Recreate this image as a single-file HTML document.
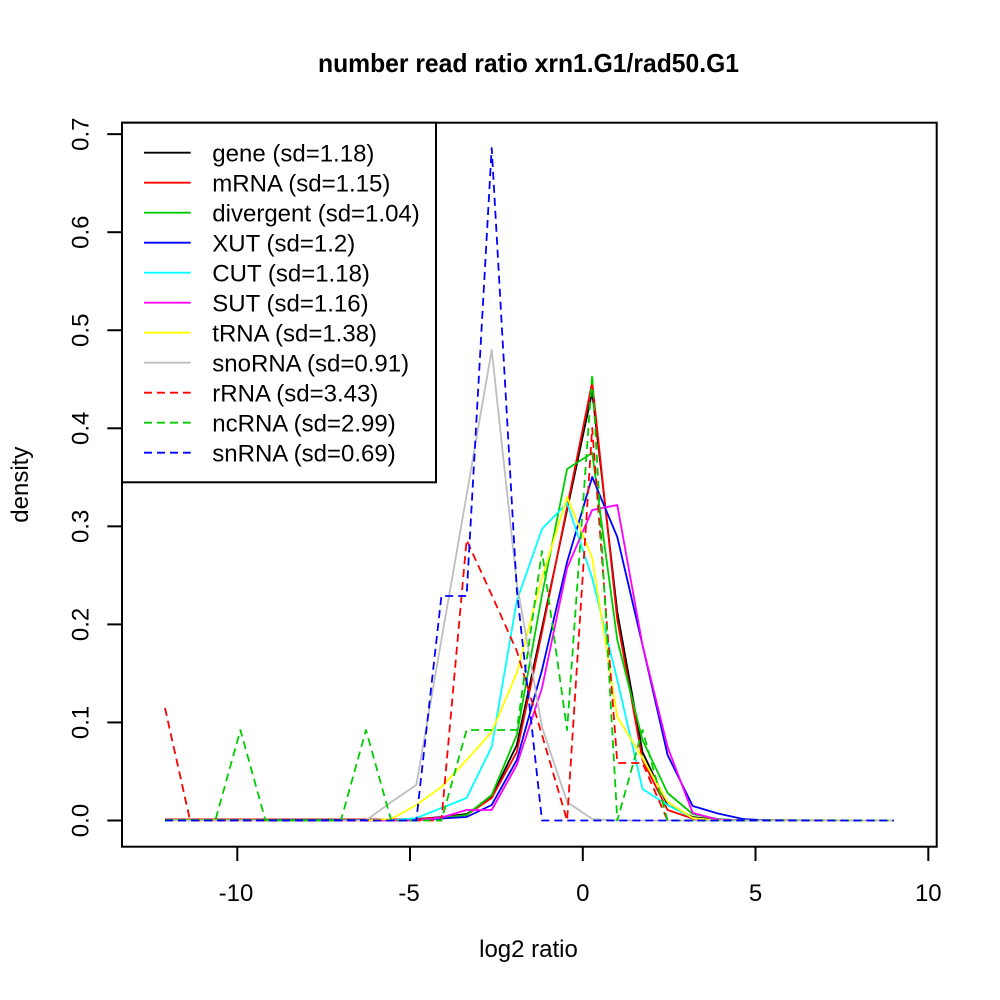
<!DOCTYPE html>
<html>
<head>
<meta charset="utf-8">
<style>
  html, body { margin: 0; padding: 0; background: #ffffff; }
  svg { display: block; }
  text { font-family: "Liberation Sans", Arial, sans-serif; fill: #000; }
</style>
</head>
<body>
<svg width="1000" height="1000" viewBox="0 0 1000 1000" xmlns="http://www.w3.org/2000/svg">
  <rect x="0" y="0" width="1000" height="1000" fill="#ffffff"/>

  <!-- Title -->
  <text x="528.5" y="72" font-size="26" font-weight="bold" text-anchor="middle" textLength="421" lengthAdjust="spacingAndGlyphs">number read ratio xrn1.G1/rad50.G1</text>

  <!-- Data series -->
  <g fill="none" stroke-width="1.8" stroke-linejoin="round">
    <!-- gene -->
    <polyline stroke="#000000" points="165,819.5 391.2,819.5 416.3,819 441.4,817 466.6,814 491.7,797 516.8,745 542,628 567.1,510 592.2,392 617.3,612 642.5,752 667.6,805 692.7,817 717.9,820 893.8,820.5"/>
    <!-- mRNA -->
    <polyline stroke="#FF0000" points="165,819.5 391.2,819.5 416.3,819 441.4,817.5 466.6,815 491.7,798 516.8,752 542,632 567.1,507 592.2,382 617.3,620 642.5,760 667.6,810 692.7,818.5 717.9,820.5 893.8,820.5"/>
    <!-- divergent -->
    <polyline stroke="#00CD00" points="165,820 416.3,820 441.4,818 466.6,815 491.7,795 516.8,735 542,595 567.1,469 592.2,453 617.3,640 642.5,740 667.6,793 692.7,814 717.9,819 743,820.5 893.8,820.5"/>
    <!-- XUT -->
    <polyline stroke="#0000FF" points="165,820.5 416.3,820 441.4,818.5 466.6,817 491.7,805 516.8,760 542,670 567.1,562 592.2,477 617.3,537 642.5,645 667.6,755 692.7,806 717.9,813.5 743,819 768.1,820.5 893.8,820.5"/>
    <!-- CUT -->
    <polyline stroke="#00FFFF" points="165,820.5 391.2,820.5 416.3,818 441.4,808 466.6,798 491.7,747 516.8,601 542,529 567.1,503 592.2,578 617.3,680 642.5,789 667.6,805 692.7,818 717.9,820.5 893.8,820.5"/>
    <!-- SUT -->
    <polyline stroke="#FF00FF" points="165,820.5 416.3,820.5 441.4,817.5 466.6,810 491.7,810 516.8,765 542,688 567.1,568 592.2,510 617.3,505 642.5,645 667.6,747 692.7,813 717.9,819.5 743,820.5 893.8,820.5"/>
    <!-- tRNA -->
    <polyline stroke="#FFFF00" points="165,820.5 366,820.5 391.2,819 416.3,805 441.4,787 466.6,760 491.7,732 516.8,673 542,578 567.1,497 592.2,558 617.3,717 642.5,758 667.6,802 692.7,818 717.9,820.5 893.8,820.5"/>
    <!-- snoRNA -->
    <polyline stroke="#BEBEBE" points="165,820.5 366,820.5 391.2,802 416.3,785 441.4,640 466.6,495 491.7,350 516.8,583 542,727 567.1,802 592.2,819 617.3,820.5 893.8,820.5"/>
    <!-- rRNA (dashed) -->
    <polyline stroke="#FF0000" stroke-dasharray="8,5" points="165,708 190.1,820.5 441.4,820.5 466.6,540 491.7,595 516.8,651 542,735 567.1,820.5 592.2,428 617.3,763 642.5,763 667.6,820.5 893.8,820.5"/>
    <!-- ncRNA (dashed) -->
    <polyline stroke="#00CD00" stroke-dasharray="8,5" points="165,820.5 215.3,820.5 240.4,730 265.5,820.5 340.9,820.5 366,730 391.2,820.5 441.4,820.5 466.6,730 516.8,730 542,551 567.1,730 592.2,374 617.3,820.5 642.5,730 667.6,820.5 893.8,820.5"/>
    <!-- snRNA (dashed) -->
    <polyline stroke="#0000FF" stroke-dasharray="8,5" points="165,820.5 416.3,820.5 441.4,596 466.6,596 491.7,148 516.8,590 542,820.5 893.8,820.5"/>
  </g>

  <!-- Plot box -->
  <rect x="122" y="122.7" width="814.7" height="724" fill="none" stroke="#000" stroke-width="2"/>

  <!-- X axis ticks -->
  <g stroke="#000" stroke-width="2">
    <line x1="237.3" y1="846.7" x2="237.3" y2="861"/>
    <line x1="410" y1="846.7" x2="410" y2="861"/>
    <line x1="582.8" y1="846.7" x2="582.8" y2="861"/>
    <line x1="755.5" y1="846.7" x2="755.5" y2="861"/>
    <line x1="928.3" y1="846.7" x2="928.3" y2="861"/>
  </g>
  <g font-size="24" text-anchor="middle">
    <text x="236" y="901">-10</text>
    <text x="409" y="901">-5</text>
    <text x="582.8" y="901">0</text>
    <text x="755.5" y="901">5</text>
    <text x="928.3" y="901">10</text>
  </g>

  <!-- Y axis ticks -->
  <g stroke="#000" stroke-width="2">
    <line x1="107.3" y1="820.5" x2="122" y2="820.5"/>
    <line x1="107.3" y1="722.45" x2="122" y2="722.45"/>
    <line x1="107.3" y1="624.4" x2="122" y2="624.4"/>
    <line x1="107.3" y1="526.35" x2="122" y2="526.35"/>
    <line x1="107.3" y1="428.3" x2="122" y2="428.3"/>
    <line x1="107.3" y1="330.25" x2="122" y2="330.25"/>
    <line x1="107.3" y1="232.2" x2="122" y2="232.2"/>
    <line x1="107.3" y1="134.15" x2="122" y2="134.15"/>
  </g>
  <g font-size="24" text-anchor="middle">
    <text transform="translate(88.3,820.5) rotate(-90)">0.0</text>
    <text transform="translate(88.3,722.45) rotate(-90)">0.1</text>
    <text transform="translate(88.3,624.4) rotate(-90)">0.2</text>
    <text transform="translate(88.3,526.35) rotate(-90)">0.3</text>
    <text transform="translate(88.3,428.3) rotate(-90)">0.4</text>
    <text transform="translate(88.3,330.25) rotate(-90)">0.5</text>
    <text transform="translate(88.3,232.2) rotate(-90)">0.6</text>
    <text transform="translate(88.3,134.15) rotate(-90)">0.7</text>
  </g>

  <!-- Axis titles -->
  <text x="528.5" y="957" font-size="24" text-anchor="middle">log2 ratio</text>
  <text transform="translate(28,484.7) rotate(-90)" font-size="24" text-anchor="middle">density</text>

  <!-- Legend -->
  <rect x="122" y="122.7" width="314" height="359.6" fill="#ffffff" stroke="#000" stroke-width="2"/>
  <g stroke-width="1.8">
    <line x1="144" y1="152.7" x2="190.7" y2="152.7" stroke="#000000"/>
    <line x1="144" y1="182.7" x2="190.7" y2="182.7" stroke="#FF0000"/>
    <line x1="144" y1="212.7" x2="190.7" y2="212.7" stroke="#00CD00"/>
    <line x1="144" y1="242.7" x2="190.7" y2="242.7" stroke="#0000FF"/>
    <line x1="144" y1="272.7" x2="190.7" y2="272.7" stroke="#00FFFF"/>
    <line x1="144" y1="302.7" x2="190.7" y2="302.7" stroke="#FF00FF"/>
    <line x1="144" y1="332.7" x2="190.7" y2="332.7" stroke="#FFFF00"/>
    <line x1="144" y1="362.7" x2="190.7" y2="362.7" stroke="#BEBEBE"/>
    <line x1="144" y1="392.7" x2="190.7" y2="392.7" stroke="#FF0000" stroke-dasharray="8,5"/>
    <line x1="144" y1="422.7" x2="190.7" y2="422.7" stroke="#00CD00" stroke-dasharray="8,5"/>
    <line x1="144" y1="452.7" x2="190.7" y2="452.7" stroke="#0000FF" stroke-dasharray="8,5"/>
  </g>
  <g font-size="24">
    <text x="212.3" y="161.5">gene (sd=1.18)</text>
    <text x="212.3" y="191.5">mRNA (sd=1.15)</text>
    <text x="212.3" y="221.5">divergent (sd=1.04)</text>
    <text x="212.3" y="251.5">XUT (sd=1.2)</text>
    <text x="212.3" y="281.5">CUT (sd=1.18)</text>
    <text x="212.3" y="311.5">SUT (sd=1.16)</text>
    <text x="212.3" y="341.5">tRNA (sd=1.38)</text>
    <text x="212.3" y="371.5">snoRNA (sd=0.91)</text>
    <text x="212.3" y="401.5">rRNA (sd=3.43)</text>
    <text x="212.3" y="431.5">ncRNA (sd=2.99)</text>
    <text x="212.3" y="461.5">snRNA (sd=0.69)</text>
  </g>
</svg>
</body>
</html>
